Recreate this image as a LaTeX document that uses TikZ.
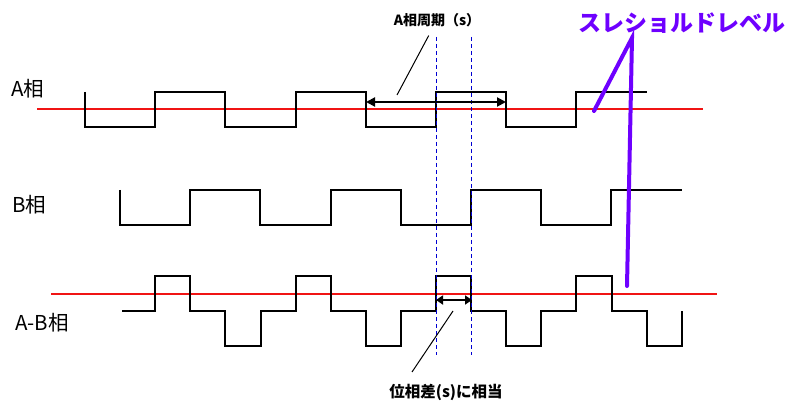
\documentclass[tikz,border=0pt]{standalone}
\usepackage{fontspec}
\setmainfont{Noto Sans CJK JP}
\usetikzlibrary{arrows.meta}

\definecolor{thrpurple}{RGB}{110,0,255}
\definecolor{levelred}{RGB}{240,20,20}
\definecolor{gapblue}{RGB}{0,0,210}

\begin{document}
\begin{tikzpicture}[x=1pt,y=-1pt,
    wave/.style={line width=2pt,line join=miter},
    level/.style={levelred,line width=1.2pt},
    gap/.style={gapblue,line width=1pt,dash pattern=on 4pt off 3pt},
    span/.style={line width=2pt,{Triangle[length=9pt,width=9pt]}-{Triangle[length=9pt,width=9pt]}},
    leader/.style={line width=1pt},
    thrline/.style={thrpurple,line width=4pt,line cap=round},
    phase/.style={font=\fontsize{20.5}{22}\selectfont},
    note/.style={font=\bfseries\fontsize{14}{16}\selectfont}]
  \useasboundingbox (0,0) rectangle (789,403);

  % Phase names
  \node[phase] (nameA) at (28,89) {A相};
  \node[phase] (nameB) at (29,205) {B相};
  \node[phase] (nameAB) at (42,323) {A-B相};

  % Threshold levels
  \draw[level] (37,109) -- (703,109);
  \draw[level] (51,294) -- (717,294);

  % A phase
  \draw[wave] (85,92)
    \foreach \i in {1,...,4} {-- ++(0,35) -- ++(70.2,0) -- ++(0,-35) -- ++(70.2,0)};

  % B phase
  \draw[wave] (120,190)
    \foreach \i in {1,...,4} {-- ++(0,35) -- ++(70.2,0) -- ++(0,-35) -- ++(70.2,0)};

  % A-B phase
  \draw[wave] (122,311) -- (155.2,311)
    \foreach \i in {1,...,3} {-- ++(0,-35) -- ++(35.1,0) -- ++(0,35) -- ++(35.1,0)
                               -- ++(0,35) -- ++(35.1,0) -- ++(0,-35) -- ++(35.1,0)}
    -- ++(0,-35) -- ++(35.1,0) -- ++(0,35) -- ++(35.1,0)
    -- ++(0,35) -- ++(35.1,0) -- ++(0,-35);

  % Phase gap markers
  \coordinate (gapLtop) at (436,37);
  \coordinate (gapLbot) at (436,355);
  \coordinate (gapRtop) at (471,37);
  \coordinate (gapRbot) at (471,355);
  \draw[gap] (gapLtop) -- (gapLbot);
  \draw[gap] (gapRtop) -- (gapRbot);

  % A period
  \coordinate (perL) at (366,102);
  \coordinate (perR) at (506,102);
  \draw[span] (perL) -- (perR);
  \node[note] (period) at (437,20) {A相周期（s）};
  \coordinate (perTip) at (397,95);
  \draw[leader,shorten >=6pt] (perTip) -- (period);

  % Phase difference
  \coordinate (difL) at (436,300);
  \coordinate (difR) at (472,300);
  \draw[span,{Triangle[length=7pt,width=9pt]}-{Triangle[length=7pt,width=9pt]}] (difL) -- (difR);
  \node[note,font=\bfseries\fontsize{15.5}{17}\selectfont] (phdiff) at (446,392) {位相差(s)に相当};
  \coordinate (difTip) at (453,311);
  \coordinate (difFoot) at (412,372);
  \draw[leader] (difTip) -- (difFoot);

  % Threshold level label
  \node[font=\bfseries\fontsize{23}{25}\selectfont,text=thrpurple] (thr) at (682,23) {スレショルドレベル};
  \coordinate (thrA) at (594,111);
  \coordinate (thrAB) at (627,286);
  \draw[thrline] (thrA) -- ([xshift=-50pt,yshift=-1pt]thr.south) -- (thrAB);
\end{tikzpicture}
\end{document}
